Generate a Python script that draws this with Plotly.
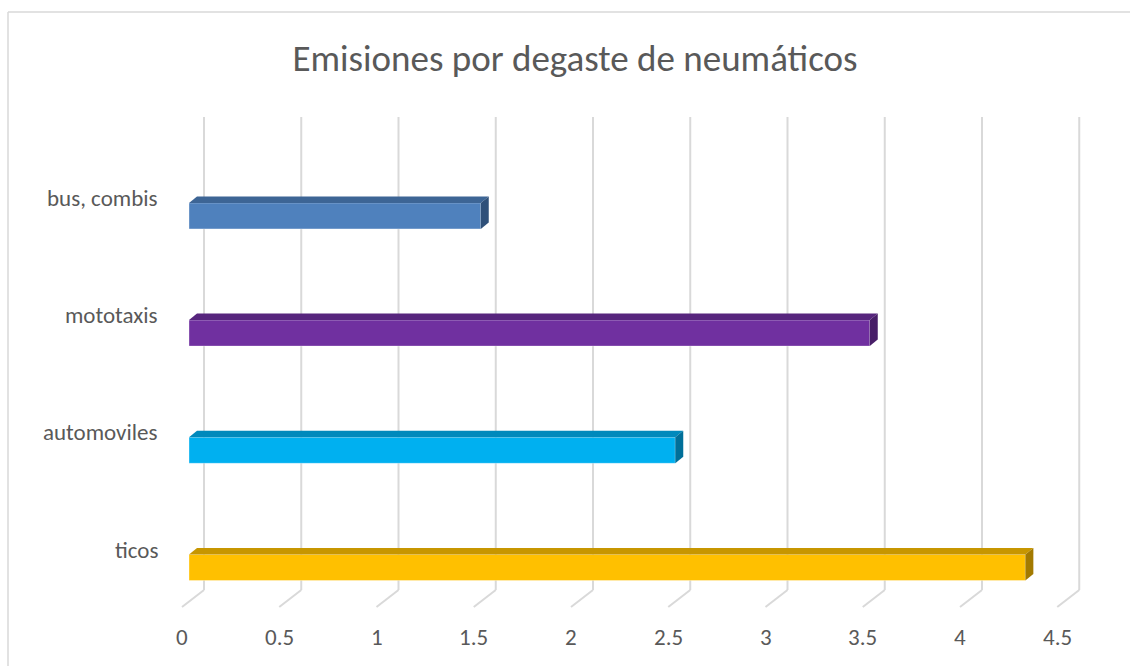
import plotly.graph_objects as go

# Data
categories = ["ticos", "automoviles", "mototaxis", "bus, combis"]
values = [4.3, 2.5, 3.5, 1.5]
front_colors = ["#FFC000", "#00B0F0", "#7030A0", "#4F81BD"]
top_colors = ["#C79600", "#0089BC", "#57257D", "#3D6595"]
side_colors = ["#A37A00", "#006F99", "#481E68", "#2F5079"]
tick_values = [0, 0.5, 1, 1.5, 2, 2.5, 3, 3.5, 4, 4.5]
tick_labels = ["0", "0.5", "1", "1.5", "2", "2.5", "3", "3.5", "4", "4.5"]
title_text = "Emisiones por degaste de neumáticos"

W, H = 1130, 666
# plot area in pixels and scale (pixels per data unit)
PX_L, PX_R, PX_T, PX_B = 150, 1110, 100, 620
X0_PX, X_SCALE = 189.0, 194.5      # x pixel of value 0 at the bar front, px per unit
Y0_PX, Y_SCALE = 567.5, 117.2      # y pixel of first category centre, px per category

def px2x(px):
    return (px - X0_PX) / X_SCALE

def px2y(py):
    return (Y0_PX - py) / Y_SCALE

x_range = [px2x(PX_L), px2x(PX_R)]
y_range = [px2y(PX_B), px2y(PX_T)]

BAR_HALF = 13 / Y_SCALE          # half thickness of a bar's front face
DX = 8 / X_SCALE                 # depth offset of bar top/side faces
DY = 6.5 / Y_SCALE

fig = go.Figure()

# back-wall gridlines and floor lines
GRID_BACK_DX = 15 / X_SCALE
GRID_FRONT_DX = -7 / X_SCALE
shapes = []
for t in tick_values:
    xb = t + GRID_BACK_DX
    shapes.append(dict(type="line", xref="x", yref="y", x0=xb, x1=xb,
                       y0=px2y(590), y1=px2y(117), layer="below",
                       line=dict(color="#D9D9D9", width=2)))
    shapes.append(dict(type="line", xref="x", yref="y", x0=xb, x1=t + GRID_FRONT_DX,
                       y0=px2y(590), y1=px2y(607), layer="below",
                       line=dict(color="#D9D9D9", width=2)))

# chart border: top and left edges (the rest runs off the page)
border = dict(color="#D9D9D9", width=1.5)
shapes.append(dict(type="line", xref="paper", yref="paper",
                   x0=8 / W, x1=1.0, y0=1 - 12 / H, y1=1 - 12 / H, line=border, layer="below"))
shapes.append(dict(type="line", xref="paper", yref="paper",
                   x0=8 / W, x1=8 / W, y0=0.0, y1=1 - 12 / H, line=border, layer="below"))

# bars: front faces
for i, (cat, v) in enumerate(zip(categories, values)):
    fig.add_trace(go.Bar(
        x=[v], y=[i], base=0, orientation="h", width=2 * BAR_HALF,
        marker=dict(color=front_colors[i], line=dict(color="rgba(255,255,255,0.35)", width=1)),
        name=cat, showlegend=False, hoverinfo="skip"))

# bars: top and side faces
for i, v in enumerate(values):
    yt, yb = i + BAR_HALF, i - BAR_HALF
    fig.add_trace(go.Scatter(
        x=[0, v, v + DX, DX, 0], y=[yt, yt, yt + DY, yt + DY, yt],
        mode="lines", fill="toself", fillcolor=top_colors[i],
        line=dict(width=0), showlegend=False, hoverinfo="skip"))
    fig.add_trace(go.Scatter(
        x=[v, v, v + DX, v + DX, v], y=[yb, yt, yt + DY, yb + DY, yb],
        mode="lines", fill="toself", fillcolor=side_colors[i],
        line=dict(width=0), showlegend=False, hoverinfo="skip"))

annotations = []
FONT = "Carlito, Calibri, 'Open Sans', sans-serif"
for t, lab in zip(tick_values, tick_labels):
    annotations.append(dict(x=t + GRID_FRONT_DX, xref="x", y=1 - 637 / H, yref="paper",
                            text=lab, showarrow=False, xanchor="center", yanchor="middle",
                            font=dict(family=FONT, size=23, color="#595959")))
for i, cat in enumerate(categories):
    annotations.append(dict(x=160 / W, xref="paper", y=i, yref="y", yshift=18,
                            text=cat, showarrow=False, xanchor="right", yanchor="middle",
                            font=dict(family=FONT, size=23, color="#595959")))

fig.update_layout(
    width=W, height=H,
    margin=dict(l=0, r=0, t=0, b=0),
    paper_bgcolor="white", plot_bgcolor="white",
    title=dict(text=title_text, x=575 / W, xanchor="center", y=1 - 58 / H, yanchor="middle",
               xref="paper", yref="container",
               font=dict(family=FONT, size=37, color="#595959")),
    xaxis=dict(domain=[PX_L / W, PX_R / W], range=x_range, visible=False, fixedrange=True),
    yaxis=dict(domain=[1 - PX_B / H, 1 - PX_T / H], range=y_range, visible=False, fixedrange=True),
    shapes=shapes, annotations=annotations,
    barmode="overlay",
)

fig.write_html("out.html")
